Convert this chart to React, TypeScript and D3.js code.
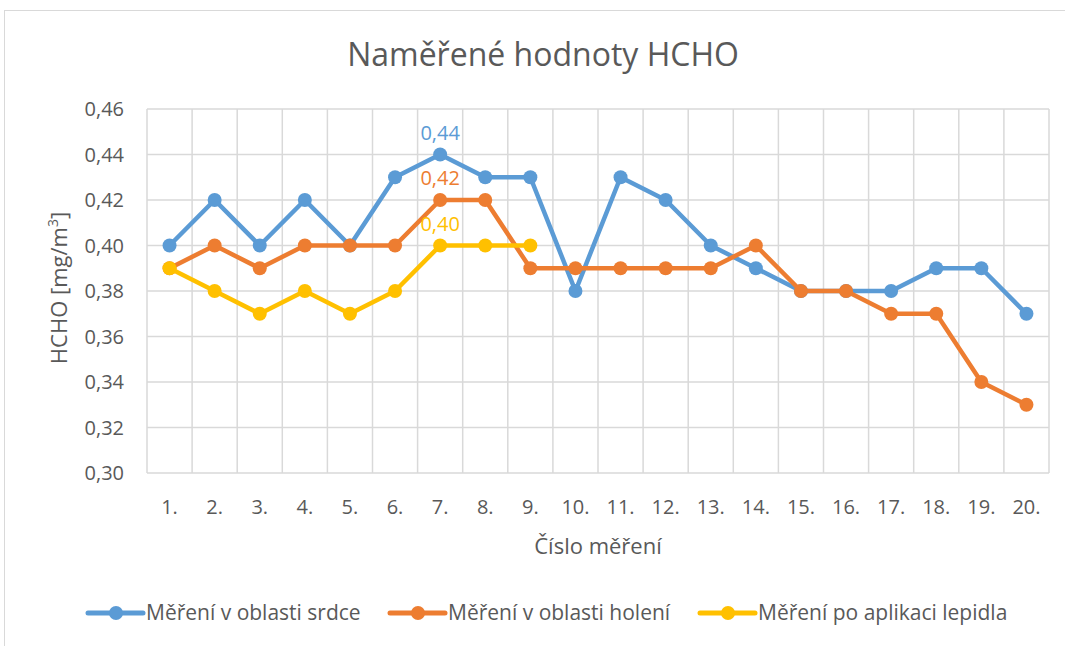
import React from 'react';
import * as d3 from 'd3';

const categories = ['1.', '2.', '3.', '4.', '5.', '6.', '7.', '8.', '9.', '10.', '11.', '12.', '13.', '14.', '15.', '16.', '17.', '18.', '19.', '20.'];
const srdce = [0.40, 0.42, 0.40, 0.42, 0.40, 0.43, 0.44, 0.43, 0.43, 0.38, 0.43, 0.42, 0.40, 0.39, 0.38, 0.38, 0.38, 0.39, 0.39, 0.37];
const holeni = [0.39, 0.40, 0.39, 0.40, 0.40, 0.40, 0.42, 0.42, 0.39, 0.39, 0.39, 0.39, 0.39, 0.40, 0.38, 0.38, 0.37, 0.37, 0.34, 0.33];
const lepidlo = [0.39, 0.38, 0.37, 0.38, 0.37, 0.38, 0.40, 0.40, 0.40];
const yTicks = [0.30, 0.32, 0.34, 0.36, 0.38, 0.40, 0.42, 0.44, 0.46];

const series = [
  { name: 'Měření v oblasti srdce', values: srdce, color: '#5B9BD5', labelAt: 6 },
  { name: 'Měření v oblasti holení', values: holeni, color: '#ED7D31', labelAt: 6 },
  { name: 'Měření po aplikaci lepidla', values: lepidlo, color: '#FFC000', labelAt: 6 },
];

const W = 1065;
const H = 646;
const FONT = "'Open Sans', sans-serif";
const TXT = '#595959';

export default function App() {
  const left = 147, right = 1049, top = 109, bottom = 473;
  const x = d3.scaleBand<string>().domain(categories).range([left, right]);
  const y = d3.scaleLinear().domain([0.30, 0.46]).range([bottom, top]);
  const cx = (i: number) => (x(categories[i]) as number) + x.bandwidth() / 2;
  const fmt = (v: number) => v.toFixed(2).replace('.', ',');
  const line = d3.line<number>().x((_, i) => cx(i)).y(d => y(d));

  // legend item start x (line start)
  const legendX = [88, 390, 700];

  return (
    <svg width={W} height={H} style={{ position: 'absolute', left: 0, top: 0 }} fontFamily={FONT}>
      <rect x={0} y={0} width={W} height={H} fill="#fff" />
      <rect x={4.5} y={10.5} width={W + 10} height={H + 10} fill="none" stroke="#D9D9D9" />
      <text x={543} y={66} textAnchor="middle" fontSize={32} fill={TXT}>Naměřené hodnoty HCHO</text>

      {yTicks.map(t => (
        <g key={t}>
          <line x1={left} x2={right} y1={y(t)} y2={y(t)} stroke="#D9D9D9" strokeWidth={1.5} />
          <text x={124} y={y(t)} dy="0.35em" textAnchor="end" fontSize={20} fill={TXT}>{fmt(t)}</text>
        </g>
      ))}
      {categories.map((c, i) => (
        <g key={c}>
          <line x1={x(c) as number} x2={x(c) as number} y1={top} y2={bottom} stroke="#D9D9D9" strokeWidth={1.5} />
          <text x={cx(i)} y={514} textAnchor="middle" fontSize={20} fill={TXT}>{c}</text>
        </g>
      ))}
      <line x1={right} x2={right} y1={top} y2={bottom} stroke="#D9D9D9" strokeWidth={1.5} />

      <text transform={`translate(67,${(top + bottom) / 2 - 3}) rotate(-90)`} textAnchor="middle" fontSize={22} fill={TXT}>
        HCHO [mg/m<tspan dy={-9} fontSize={14}>3</tspan><tspan dy={9}>]</tspan>
      </text>
      <text x={598} y={554} textAnchor="middle" fontSize={22} fill={TXT}>Číslo měření</text>

      {series.map(s => (
        <g key={s.name}>
          <path d={line(s.values) as string} fill="none" stroke={s.color} strokeWidth={4.5} strokeLinejoin="round" />
          {s.values.map((v, i) => (
            <circle key={i} cx={cx(i)} cy={y(v)} r={7} fill={s.color} />
          ))}
          <text x={cx(s.labelAt)} y={y(s.values[s.labelAt]) - 15} textAnchor="middle" fontSize={20} fill={s.color}>
            {fmt(s.values[s.labelAt])}
          </text>
        </g>
      ))}

      {series.map((s, i) => (
        <g key={s.name} transform={`translate(${legendX[i]},613)`}>
          <line x1={0} x2={55} y1={0} y2={0} stroke={s.color} strokeWidth={5} strokeLinecap="round" />
          <circle cx={28} cy={0} r={7} fill={s.color} />
          <text x={58} y={0} dy="0.35em" fontSize={21} fill={TXT}>{s.name}</text>
        </g>
      ))}
    </svg>
  );
}
